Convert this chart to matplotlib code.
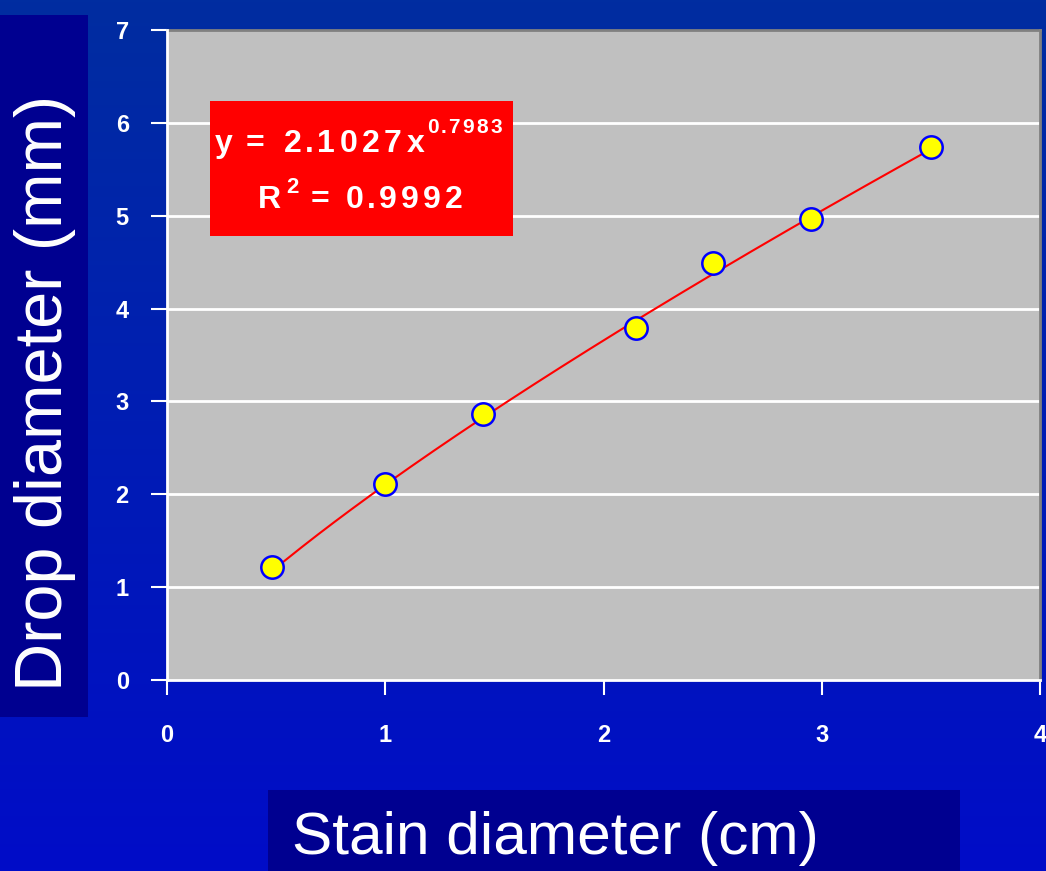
import numpy as np
import matplotlib
matplotlib.use("Agg")
import matplotlib.pyplot as plt
from matplotlib.patches import Rectangle
from matplotlib.textpath import TextPath
from matplotlib.font_manager import FontProperties

# Data
stain_diameter_cm = [0.48, 1.0, 1.45, 2.15, 2.5, 2.95, 3.5]
drop_diameter_mm = [1.22, 2.11, 2.87, 3.79, 4.49, 4.97, 5.74]
fit_coef = "2.1027"
fit_exp = "0.7983"
r_squared = "0.9992"
x_ticks = [0, 1, 2, 3, 4]
y_ticks = [0, 1, 2, 3, 4, 5, 6, 7]
x_label = "Stain diameter (cm)"
y_label = "Drop diameter (mm)"

plt.rcParams['font.family'] = ['Liberation Sans', 'DejaVu Sans']

W, H = 1046, 871
fig = plt.figure(figsize=(W / 100, H / 100), dpi=100)

# gradient background
bg = fig.add_axes([0, 0, 1, 1], zorder=0)
top = np.array([0, 45, 160]) / 255
bot = np.array([0, 12, 200]) / 255
t = np.linspace(0, 1, 256)[:, None]
grad = top[None, :] * (1 - t) + bot[None, :] * t
bg.imshow(grad[:, None, :].repeat(2, axis=1), aspect='auto', extent=[0, 1, 0, 1])
bg.set_axis_off()

# label boxes
fig.patches.append(Rectangle((0, 1 - 717 / H), 88 / W, (717 - 15) / H,
                             transform=fig.transFigure, facecolor='#000090',
                             edgecolor='none', zorder=1))
fig.patches.append(Rectangle((268 / W, 0), (960 - 268) / W, (871 - 790) / H,
                             transform=fig.transFigure, facecolor='#000090',
                             edgecolor='none', zorder=1))
fig.text(45 / W, 1 - 393 / H, y_label, rotation=90, color='white',
         fontsize=48, ha='center', va='center', zorder=3)
fig.text(555 / W, 1 - 838 / H, x_label, color='white',
         fontsize=43.5, ha='center', va='center', zorder=3)

ax = fig.add_axes([167 / W, 1 - 680 / H, 873 / W, 650 / H], zorder=2)
ax.set_facecolor('#c0c0c0')
ax.set_xlim(0, 4)
ax.set_ylim(0, 7)
ax.set_xticks(x_ticks)
ax.set_yticks(y_ticks)
for yv in y_ticks[1:-1]:
    ax.axhline(yv, color='white', lw=2, zorder=1)
for s in ['top', 'right']:
    ax.spines[s].set_color('#808080')
    ax.spines[s].set_linewidth(2)
for s in ['left', 'bottom']:
    ax.spines[s].set_color('white')
    ax.spines[s].set_linewidth(2)
    ax.spines[s].set_zorder(3)
ax.tick_params(axis='y', colors='white', length=11.5, width=1.5,
               direction='out', pad=16, labelsize=17)
ax.tick_params(axis='x', colors='white', length=11, width=1.5,
               direction='out', pad=21, labelsize=17)
for lab in ax.get_xticklabels() + ax.get_yticklabels():
    lab.set_fontweight('bold')
    lab.set_color('white')

# trendline
xs = np.linspace(min(stain_diameter_cm), max(stain_diameter_cm), 200)
ax.plot(xs, float(fit_coef) * xs ** float(fit_exp), color='red', lw=1.5, zorder=3)
ax.scatter(stain_diameter_cm, drop_diameter_mm, s=260, facecolor='yellow',
           edgecolor='blue', linewidth=1.8, zorder=4)

# equation box
ax.add_patch(Rectangle((0.197, 4.78), 1.387, 1.46, facecolor='red',
                       edgecolor='none', zorder=5))

bold = FontProperties(family='Liberation Sans', weight='bold')


def tracked(px, py, s, fs_pt, gap_px, space_px=10):
    """Draw text with letter spacing; px = left ink edge, py = baseline (pixels from top)."""
    size_px = fs_pt * 100 / 72
    x = px
    for ch in s:
        if ch == ' ':
            x += space_px
            continue
        ext = TextPath((0, 0), ch, size=size_px, prop=bold).get_extents()
        fig.text((x - ext.x0) / W, 1 - py / H, ch, color='white',
                 fontsize=fs_pt, fontproperties=bold, ha='left',
                 va='baseline', zorder=6)
        x += ext.width + gap_px
    return x


tracked(215, 152, "y", 23, 7)
tracked(247, 152, "=", 23, 7)
tracked(285, 152, fit_coef + "x", 23, 7)
tracked(428, 133, fit_exp, 15, 4)
tracked(260, 208, "R", 23, 7)
tracked(287, 193, "2", 16, 4)
tracked(312, 208, "=", 23, 7)
tracked(347, 208, r_squared, 23, 6.5)

fig.savefig('out.png', dpi=100)
